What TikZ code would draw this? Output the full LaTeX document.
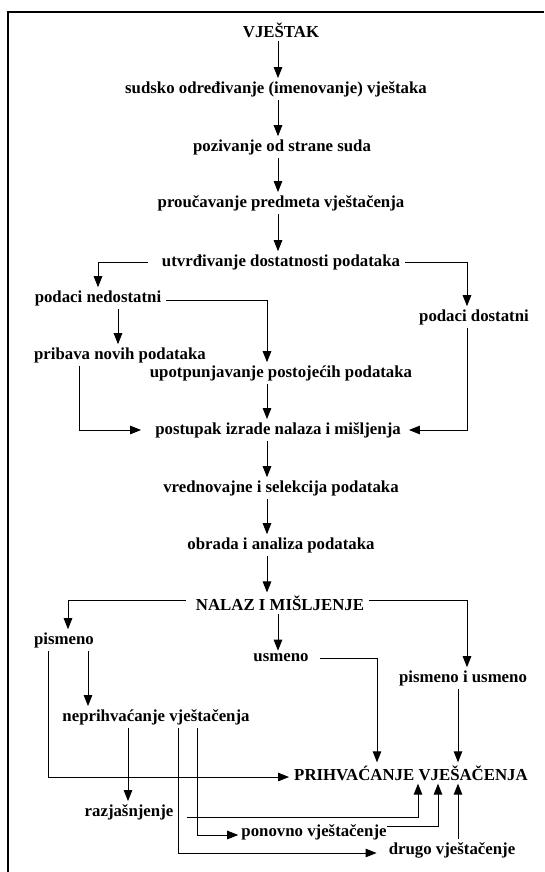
\documentclass[tikz,border=0pt]{standalone}
\usepackage{fontspec}
\setmainfont{Liberation Serif}
\usetikzlibrary{arrows.meta}
\begin{document}
\begin{tikzpicture}[x=1pt,y=-1pt,
  lbl/.style={font=\bfseries\fontsize{16.8}{20}\selectfont, inner xsep=5pt, inner ysep=3pt},
  arr/.style={-{Triangle[width=8.5pt,length=11pt]}, line width=1pt},
  ln/.style={line width=1pt}]
\useasboundingbox (0,0) rectangle (544,872);
\draw[line width=2pt] (8,872) -- (8,12) -- (544,12);
% column coordinates
\coordinate (cA) at (278,0);
\coordinate (cB) at (267,0);
\coordinate (cL) at (98,0);
\coordinate (cD) at (467,0);
\coordinate (cN) at (118,0);
\coordinate (cP) at (79,0);
\coordinate (cS) at (68,0);
\coordinate (cU) at (377,0);
\coordinate (cV) at (458,0);
\coordinate (cW) at (48,0);
\coordinate (cX) at (88,0);
\coordinate (cR) at (128,0);
\coordinate (cG) at (178,0);
\coordinate (cO) at (197,0);
\coordinate (cQ) at (418,0);
\coordinate (cT) at (438,0);
% nodes
\node[lbl] (vj)  at (281,30)  {VJEŠTAK};
\node[lbl] (sud) at (276,89)  {sudsko određivanje (imenovanje) vještaka};
\node[lbl] (poz) at (282,147) {pozivanje od strane suda};
\node[lbl] (pro) at (281,203) {proučavanje predmeta vještačenja};
\node[lbl] (utv) at (281,262) {utvrđivanje dostatnosti podataka};
\node[lbl] (ned) at (98,298)  {podaci nedostatni};
\node[lbl] (dos) at (474,317) {podaci dostatni};
\node[lbl] (pri) at (120,355) {pribava novih podataka};
\node[lbl] (upo) at (281,373) {upotpunjavanje postojećih podataka};
\node[lbl] (pos) at (278,430) {postupak izrade nalaza i mišljenja};
\node[lbl] (vre) at (281,488) {vrednovajne i selekcija podataka};
\node[lbl] (obr) at (281,545) {obrada i analiza podataka};
\node[lbl] (nal) at (280,603) {NALAZ I MIŠLJENJE};
\node[lbl] (pis) at (64,640)  {pismeno};
\node[lbl] (usm) at (281,658) {usmeno};
\node[lbl] (piu) at (463,678) {pismeno i usmeno};
\node[lbl] (nep) at (156,717) {neprihvaćanje vještačenja};
\node[lbl] (prh) at (411,773) {PRIHVAĆANJE VJEŠAČENJA};
\node[lbl] (raz) at (129,812) {razjašnjenje};
\node[lbl] (pon) at (314,832) {ponovno vještačenje};
\node[lbl] (dru) at (452,850) {drugo vještačenje};
% connectors
\draw[arr] (vj.south -| cA) -- (sud.north -| cA);
\draw[arr] (sud.south -| cA) -- (poz.north -| cA);
\draw[arr] (poz.south -| cA) -- (pro.north -| cA);
\draw[arr] (pro.south -| cA) -- (utv.north -| cA);
\draw[arr] ([xshift=-9pt]utv.west) -| (ned.north -| cL);
\draw[arr] (utv.east) -| (dos.north -| cD);
\draw[arr] ([yshift=-2pt]ned.east) -| (upo.north -| cB);
\draw[arr] (ned.south -| cN) -- (pri.north -| cN);
\draw[arr] (pri.south -| cP) |- ([xshift=-9pt]pos.west);
\draw[arr] (dos.south -| cD) |- ([xshift=3pt]pos.east);
\draw[arr] (upo.south -| cB) -- (pos.north -| cB);
\draw[arr] (pos.south -| cB) -- (vre.north -| cB);
\draw[arr] (vre.south -| cB) -- (obr.north -| cB);
\draw[arr] (obr.south -| cB) -- (nal.north -| cB);
\draw[arr] ([yshift=3pt,xshift=-5pt]nal.west) -| (pis.north -| cS);
\draw[arr] ([yshift=3pt]nal.east) -| (piu.north -| cD);
\draw[arr] (nal.south -| cA) -- (usm.north -| cA);
\draw[arr] ([xshift=6pt]usm.east) -| (prh.north -| cU);
\draw[arr] (piu.south -| cV) -- (prh.north -| cV);
\draw[arr] (pis.south -| cW) |- ([yshift=-4pt]prh.west);
\draw[arr] (pis.south -| cX) -- (nep.north -| cX);
\draw[arr] (nep.south -| cR) -- (raz.north -| cR);
\draw[arr] (nep.south -| cG) |- ([yshift=-3pt,xshift=-7pt]dru.west);
\draw[arr] (nep.south -| cO) |- ([yshift=-3pt,xshift=2pt]pon.west);
\draw[arr] ([yshift=-5pt,xshift=8pt]raz.east) -| (prh.south -| cQ);
\draw[arr] ([yshift=6pt,xshift=-5pt]pon.east) -| (prh.south -| cT);
\draw[arr] (dru.north -| cV) -- (prh.south -| cV);
\end{tikzpicture}
\end{document}
